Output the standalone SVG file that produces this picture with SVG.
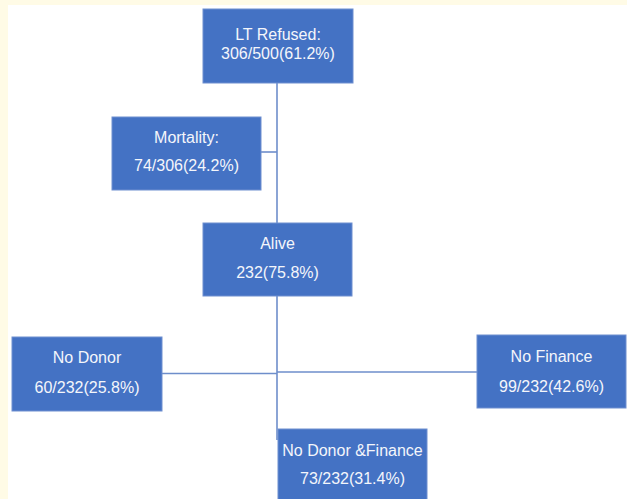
<svg xmlns="http://www.w3.org/2000/svg" width="627" height="499" viewBox="0 0 627 499">
<style>
.box{fill:#4472c4;stroke:#6f8fd0;stroke-width:1}
.t{font-family:"Liberation Sans",Arial,sans-serif;font-size:16px;fill:#f4f6fb;text-anchor:middle}
.c{stroke:#6e8ecb;stroke-width:1.6;fill:none}
</style>
<rect x="0" y="0" width="627" height="499" fill="#ffffff"/>
<rect x="0" y="0" width="627" height="5" fill="#fffbe6"/>
<rect x="0" y="0" width="8" height="499" fill="#fffbe6"/>
<g id="connectors">
<line class="c" x1="277" y1="83" x2="277" y2="223"/>
<line class="c" x1="261" y1="152" x2="277" y2="152"/>
<line class="c" x1="277" y1="296" x2="277" y2="440"/>
<line class="c" x1="162" y1="373.5" x2="277" y2="373.5"/>
<line class="c" x1="277" y1="372" x2="477" y2="372"/>
</g>
<g id="lt-refused">
<rect class="box" x="203" y="9" width="150" height="74"/>
<text class="t" x="278" y="40">LT Refused:</text>
<text class="t" x="278" y="59">306/500(61.2%)</text>
</g>
<g id="mortality">
<rect class="box" x="112" y="117" width="149" height="73"/>
<text class="t" x="186.5" y="143">Mortality:</text>
<text class="t" x="186.5" y="171">74/306(24.2%)</text>
</g>
<g id="alive">
<rect class="box" x="203" y="223" width="149" height="73"/>
<text class="t" x="277.5" y="249">Alive</text>
<text class="t" x="277.5" y="278">232(75.8%)</text>
</g>
<g id="no-donor">
<rect class="box" x="12" y="337" width="150" height="74"/>
<text class="t" x="87" y="363">No Donor</text>
<text class="t" x="87" y="393">60/232(25.8%)</text>
</g>
<g id="no-finance">
<rect class="box" x="477" y="335" width="149" height="73"/>
<text class="t" x="551.5" y="362">No Finance</text>
<text class="t" x="551.5" y="392">99/232(42.6%)</text>
</g>
<g id="no-donor-finance">
<rect class="box" x="278" y="429" width="149" height="75"/>
<text class="t" x="352.5" y="456">No Donor &amp;Finance</text>
<text class="t" x="352.5" y="484">73/232(31.4%)</text>
</g>
</svg>
